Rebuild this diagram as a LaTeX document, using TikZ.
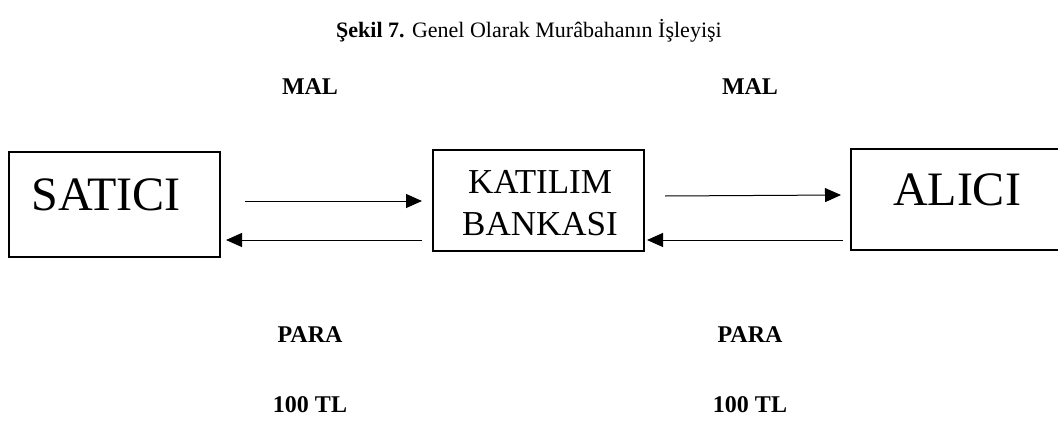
\documentclass[tikz,border=0pt]{standalone}
\usepackage{fontspec}
\setmainfont{Liberation Serif}
\usetikzlibrary{arrows.meta}
\tikzset{
  box/.style={draw, line width=2pt, inner sep=0pt},
  lbl/.style={inner sep=0pt, anchor=base, font=\fontsize{24}{28}\selectfont\bfseries},
  boxtxt/.style={inner sep=0pt, anchor=base, font=\fontsize{48}{56}\selectfont},
  kattxt/.style={inner sep=0pt, anchor=base, font=\fontsize{35}{42}\selectfont},
  arr/.style={line width=1pt, -{Triangle[length=16pt,width=14pt]}}
}
\begin{document}
\begin{tikzpicture}[x=1pt,y=-1pt]
\useasboundingbox (0,0) rectangle (1058,439);
% title
\node (title) [inner sep=0pt, anchor=base, font=\fontsize{22}{26}\selectfont] at (529,37) {\textbf{Şekil 7.} Genel Olarak Murâbahanın İşleyişi};
% boxes
\node (sat) [box, minimum width=211pt, minimum height=105pt] at (114.5,204.5) {};
\node (kat) [box, minimum width=211pt, minimum height=101pt] at (538.5,200.5) {};
\node (ali) [box, minimum width=212pt, minimum height=101pt] at (957,199.5) {};
% box texts
\node (sattxt) [boxtxt] at (106,210) {SATICI};
\node (alitxt) [boxtxt] at (957,205) {ALICI};
\node (kat1) [kattxt] at (540,193) {KATILIM};
\node (kat2) [kattxt] at (540,235) {BANKASI};
% labels
\node (mal1) [lbl] at (310,94) {MAL};
\node (mal2) [lbl] at (750,94) {MAL};
\node (para1) [lbl] at (310,342) {PARA};
\node (para2) [lbl] at (750,342) {PARA};
\node (tl1) [lbl] at (310,412) {100 TL};
\node (tl2) [lbl] at (750,412) {100 TL};
% arrow end points
\coordinate (a1s) at (245,201);
\coordinate (a1e) at (kat.west |- a1s);
\coordinate (a2s) at (kat.west |- 0,240);
\coordinate (a2e) at (226,240);
\coordinate (a3s) at (665,196);
\coordinate (a3e) at (ali.west |- 0,195);
\coordinate (a4s) at (843,240);
\coordinate (a4e) at (kat.east |- 0,240);
\draw[arr] (a1s) -- ([xshift=-10pt]a1e);
\draw[arr] ([xshift=-10pt]a2s) -- (a2e);
\draw[arr] (a3s) -- ([xshift=-9pt]a3e);
\draw[arr] (a4s) -- ([xshift=2pt]a4e);
\end{tikzpicture}
\end{document}
